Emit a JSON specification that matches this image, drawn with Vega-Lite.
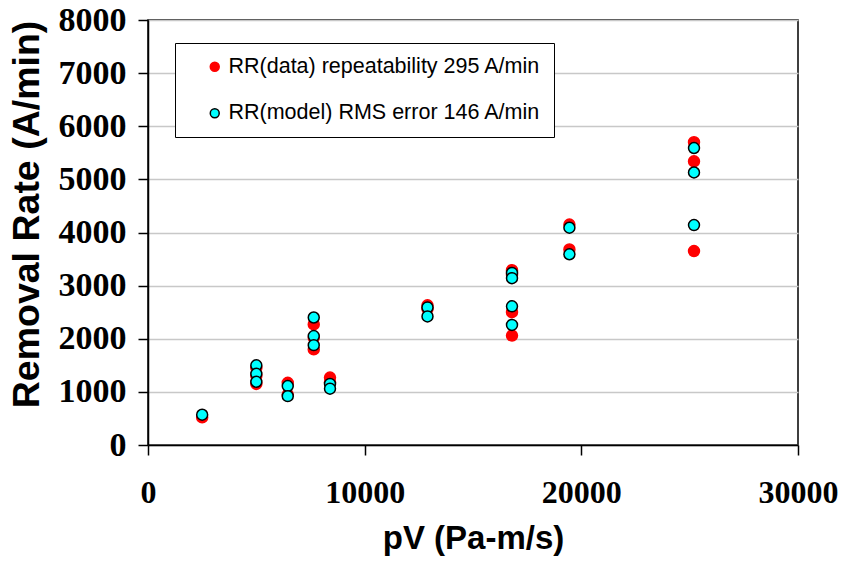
{
  "$schema": "https://vega.github.io/schema/vega-lite/v6.json",
  "width": 650,
  "height": 425,
  "autosize": {"type": "none"},
  "padding": {"left": 148, "top": 20, "right": 46, "bottom": 127},
  "background": "white",
  "config": {
    "view": {"stroke": "#000000", "strokeWidth": 1.5},
    "axis": {
      "domainColor": "#000000", "domainWidth": 1.5,
      "tickColor": "#000000", "tickWidth": 1.5, "tickSize": 10,
      "labelFont": "Liberation Serif", "labelFontWeight": "bold", "labelColor": "#000000",
      "titleFont": "Liberation Sans", "titleFontWeight": "bold", "titleColor": "#000000",
      "gridColor": "#C8C8C8", "gridWidth": 1.5
    },
    "legend": {
      "fillColor": "white", "strokeColor": "#000000",
      "padding": 13, "labelFont": "Liberation Sans", "labelFontSize": 21.5, "labelColor": "#000000",
      "labelLimit": 500, "rowPadding": 23.5, "symbolSize": 80, "symbolOffset": 16, "labelOffset": 3
    }
  },
  "data": {
    "values": [
      {"pV": 2500, "RR": 520, "series": "RR(data) repeatability 295 A/min"},
      {"pV": 5000, "RR": 1150, "series": "RR(data) repeatability 295 A/min"},
      {"pV": 5000, "RR": 1300, "series": "RR(data) repeatability 295 A/min"},
      {"pV": 5000, "RR": 1450, "series": "RR(data) repeatability 295 A/min"},
      {"pV": 6450, "RR": 1170, "series": "RR(data) repeatability 295 A/min"},
      {"pV": 6450, "RR": 950, "series": "RR(data) repeatability 295 A/min"},
      {"pV": 7650, "RR": 2270, "series": "RR(data) repeatability 295 A/min"},
      {"pV": 7650, "RR": 2020, "series": "RR(data) repeatability 295 A/min"},
      {"pV": 7650, "RR": 1800, "series": "RR(data) repeatability 295 A/min"},
      {"pV": 8400, "RR": 1270, "series": "RR(data) repeatability 295 A/min"},
      {"pV": 8400, "RR": 1180, "series": "RR(data) repeatability 295 A/min"},
      {"pV": 12900, "RR": 2630, "series": "RR(data) repeatability 295 A/min"},
      {"pV": 12900, "RR": 2560, "series": "RR(data) repeatability 295 A/min"},
      {"pV": 16800, "RR": 3290, "series": "RR(data) repeatability 295 A/min"},
      {"pV": 16800, "RR": 3200, "series": "RR(data) repeatability 295 A/min"},
      {"pV": 16800, "RR": 2500, "series": "RR(data) repeatability 295 A/min"},
      {"pV": 16800, "RR": 2060, "series": "RR(data) repeatability 295 A/min"},
      {"pV": 19450, "RR": 4150, "series": "RR(data) repeatability 295 A/min"},
      {"pV": 19450, "RR": 3680, "series": "RR(data) repeatability 295 A/min"},
      {"pV": 25200, "RR": 5700, "series": "RR(data) repeatability 295 A/min"},
      {"pV": 25200, "RR": 5340, "series": "RR(data) repeatability 295 A/min"},
      {"pV": 25200, "RR": 3650, "series": "RR(data) repeatability 295 A/min"},
      {"pV": 2500, "RR": 570, "series": "RR(model) RMS error 146 A/min"},
      {"pV": 5000, "RR": 1500, "series": "RR(model) RMS error 146 A/min"},
      {"pV": 5000, "RR": 1340, "series": "RR(model) RMS error 146 A/min"},
      {"pV": 5000, "RR": 1190, "series": "RR(model) RMS error 146 A/min"},
      {"pV": 6450, "RR": 1110, "series": "RR(model) RMS error 146 A/min"},
      {"pV": 6450, "RR": 920, "series": "RR(model) RMS error 146 A/min"},
      {"pV": 7650, "RR": 2400, "series": "RR(model) RMS error 146 A/min"},
      {"pV": 7650, "RR": 2050, "series": "RR(model) RMS error 146 A/min"},
      {"pV": 7650, "RR": 1880, "series": "RR(model) RMS error 146 A/min"},
      {"pV": 8400, "RR": 1150, "series": "RR(model) RMS error 146 A/min"},
      {"pV": 8400, "RR": 1060, "series": "RR(model) RMS error 146 A/min"},
      {"pV": 12900, "RR": 2590, "series": "RR(model) RMS error 146 A/min"},
      {"pV": 12900, "RR": 2420, "series": "RR(model) RMS error 146 A/min"},
      {"pV": 16800, "RR": 3240, "series": "RR(model) RMS error 146 A/min"},
      {"pV": 16800, "RR": 3140, "series": "RR(model) RMS error 146 A/min"},
      {"pV": 16800, "RR": 2610, "series": "RR(model) RMS error 146 A/min"},
      {"pV": 16800, "RR": 2260, "series": "RR(model) RMS error 146 A/min"},
      {"pV": 19450, "RR": 4090, "series": "RR(model) RMS error 146 A/min"},
      {"pV": 19450, "RR": 3590, "series": "RR(model) RMS error 146 A/min"},
      {"pV": 25200, "RR": 5590, "series": "RR(model) RMS error 146 A/min"},
      {"pV": 25200, "RR": 5130, "series": "RR(model) RMS error 146 A/min"},
      {"pV": 25200, "RR": 4140, "series": "RR(model) RMS error 146 A/min"}
    ]
  },
  "mark": {"type": "point", "shape": "circle", "filled": true, "size": 120, "strokeWidth": 1.5, "opacity": 1},
  "encoding": {
    "x": {
      "field": "pV", "type": "quantitative",
      "scale": {"domain": [0, 30000], "nice": false, "zero": true},
      "axis": {
        "title": "pV (Pa-m/s)", "values": [0, 10000, 20000, 30000], "format": "d",
        "grid": false, "labelFontSize": 32, "labelPadding": 22, "labelFlush": false,
        "titleFontSize": 33, "titlePadding": 14
      }
    },
    "y": {
      "field": "RR", "type": "quantitative",
      "scale": {"domain": [0, 8000], "nice": false},
      "axis": {
        "title": "Removal Rate (A/min)", "values": [0, 1000, 2000, 3000, 4000, 5000, 6000, 7000, 8000], "format": "d",
        "grid": true, "labelFontSize": 34, "labelPadding": 12,
        "titleFontSize": 37.5, "titlePadding": 12, "titleY": 194
      }
    },
    "color": {
      "field": "series", "type": "nominal",
      "scale": {"domain": ["RR(data) repeatability 295 A/min", "RR(model) RMS error 146 A/min"], "range": ["#FF0000", "#00FFFF"]},
      "legend": {"title": null, "orient": "none", "legendX": 27, "legendY": 23}
    },
    "stroke": {
      "field": "series", "type": "nominal",
      "scale": {"domain": ["RR(data) repeatability 295 A/min", "RR(model) RMS error 146 A/min"], "range": ["#FF0000", "#000000"]},
      "legend": {"title": null, "orient": "none", "legendX": 27, "legendY": 23}
    }
  }
}
